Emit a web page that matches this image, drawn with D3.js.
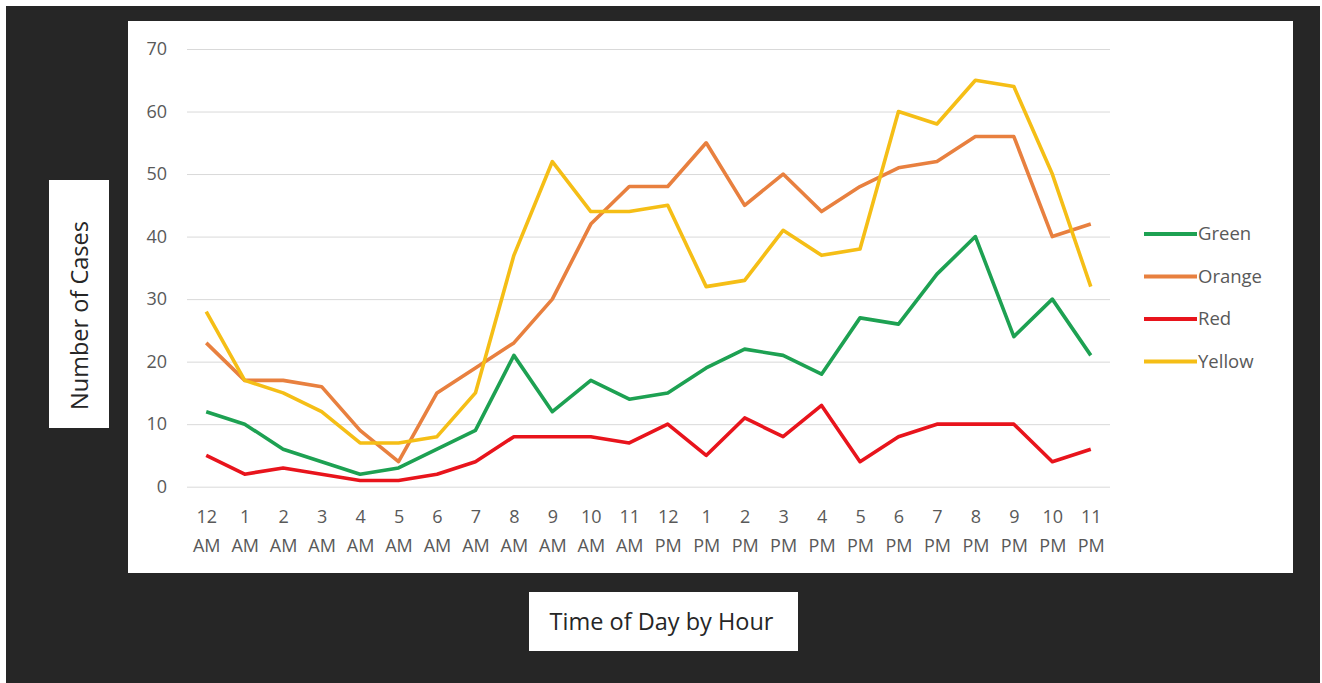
<!DOCTYPE html>
<html>
<head>
<meta charset="utf-8">
<script src="https://cdn.jsdelivr.net/npm/d3@7"></script>
<style>
  html, body { margin: 0; padding: 0; background: #ffffff; }
  svg { display: block; }
</style>
</head>
<body>
<svg id="chart" width="1322" height="683"></svg>
<script>
// Hourly case counts by triage colour
const hours = ["12 AM","1 AM","2 AM","3 AM","4 AM","5 AM","6 AM","7 AM","8 AM","9 AM","10 AM","11 AM",
               "12 PM","1 PM","2 PM","3 PM","4 PM","5 PM","6 PM","7 PM","8 PM","9 PM","10 PM","11 PM"];
const green  = [12,10,6,4,2,3,6,9,21,12,17,14,15,19,22,21,18,27,26,34,40,24,30,21];
const orange = [23,17,17,16,9,4,15,19,23,30,42,48,48,55,45,50,44,48,51,52,56,56,40,42];
const red    = [5,2,3,2,1,1,2,4,8,8,8,7,10,5,11,8,13,4,8,10,10,10,4,6];
const yellow = [28,17,15,12,7,7,8,15,37,52,44,44,45,32,33,41,37,38,60,58,65,64,50,32];
const seriesNames = ["Green","Orange","Red","Yellow"];
const yTicks = [0,10,20,30,40,50,60,70];

const seriesColors = { Green: "#1da152", Orange: "#e8803f", Red: "#e8141c", Yellow: "#f5be16" };
const seriesData = { Green: green, Orange: orange, Red: red, Yellow: yellow };

const svg = d3.select("#chart");
const FONT = "'Open Sans', 'Noto Sans', sans-serif";

// dark backdrop
svg.append("rect").attr("x", 6).attr("y", 6).attr("width", 1314).attr("height", 677).attr("fill", "#262626");
// white chart panel
svg.append("rect").attr("x", 128).attr("y", 21).attr("width", 1165).attr("height", 552).attr("fill", "#ffffff");

const x = d3.scalePoint().domain(hours).range([187, 1110]).padding(0.5);
const y = d3.scaleLinear().domain([0, 70]).range([486.7, 49]);

// gridlines + y tick labels
const yAxis = d3.axisLeft(y).tickValues(yTicks).tickSize(-(1110 - 187)).tickPadding(20);
const gy = svg.append("g").attr("transform", "translate(187,0)").call(yAxis);
gy.select(".domain").remove();
gy.selectAll(".tick line").attr("stroke", "#d9d9d9").attr("stroke-width", 1);
gy.selectAll(".tick text").attr("fill", "#595959").attr("font-family", FONT).attr("font-size", 18);

// x tick labels on two lines
const xAxis = d3.axisBottom(x).tickSize(0).tickPadding(0);
const gx = svg.append("g").attr("transform", "translate(0,486.7)").call(xAxis);
gx.select(".domain").remove();
gx.selectAll(".tick text").each(function(d) {
  const parts = d.split(" ");
  const t = d3.select(this).text(null)
    .attr("fill", "#595959").attr("font-family", FONT).attr("font-size", 18)
    .attr("y", 0).attr("dy", null);
  t.append("tspan").attr("x", 0).attr("y", 36.5).text(parts[0]);
  t.append("tspan").attr("x", 0).attr("y", 65.5).text(parts[1]);
});

// series lines
const line = d3.line().x((d, i) => x(hours[i])).y(d => y(d));
seriesNames.forEach(name => {
  svg.append("path")
    .datum(seriesData[name])
    .attr("fill", "none")
    .attr("stroke", seriesColors[name])
    .attr("stroke-width", 3.6)
    .attr("stroke-linejoin", "round")
    .attr("d", line);
});

// legend
const legend = svg.append("g");
seriesNames.forEach((name, i) => {
  const ly = 234 + i * 42.5;
  legend.append("line").attr("x1", 1144).attr("x2", 1197).attr("y1", ly).attr("y2", ly)
    .attr("stroke", seriesColors[name]).attr("stroke-width", 4);
  legend.append("text").attr("x", 1198).attr("y", ly).attr("dy", "0.35em")
    .attr("fill", "#595959").attr("font-family", FONT).attr("font-size", 18.5).text(name);
});

// y axis title box
svg.append("rect").attr("x", 49).attr("y", 180).attr("width", 60).attr("height", 248).attr("fill", "#ffffff");
svg.append("text")
  .attr("transform", "translate(80,315.5) rotate(-90)")
  .attr("text-anchor", "middle").attr("dy", "0.35em")
  .attr("fill", "#262626").attr("font-family", FONT).attr("font-size", 23.5)
  .text("Number of Cases");

// x axis title box
svg.append("rect").attr("x", 529).attr("y", 592).attr("width", 269).attr("height", 59).attr("fill", "#ffffff");
svg.append("text")
  .attr("x", 661.5).attr("y", 621.5)
  .attr("text-anchor", "middle").attr("dy", "0.35em")
  .attr("fill", "#262626").attr("font-family", FONT).attr("font-size", 23.5)
  .text("Time of Day by Hour");
</script>
</body>
</html>
